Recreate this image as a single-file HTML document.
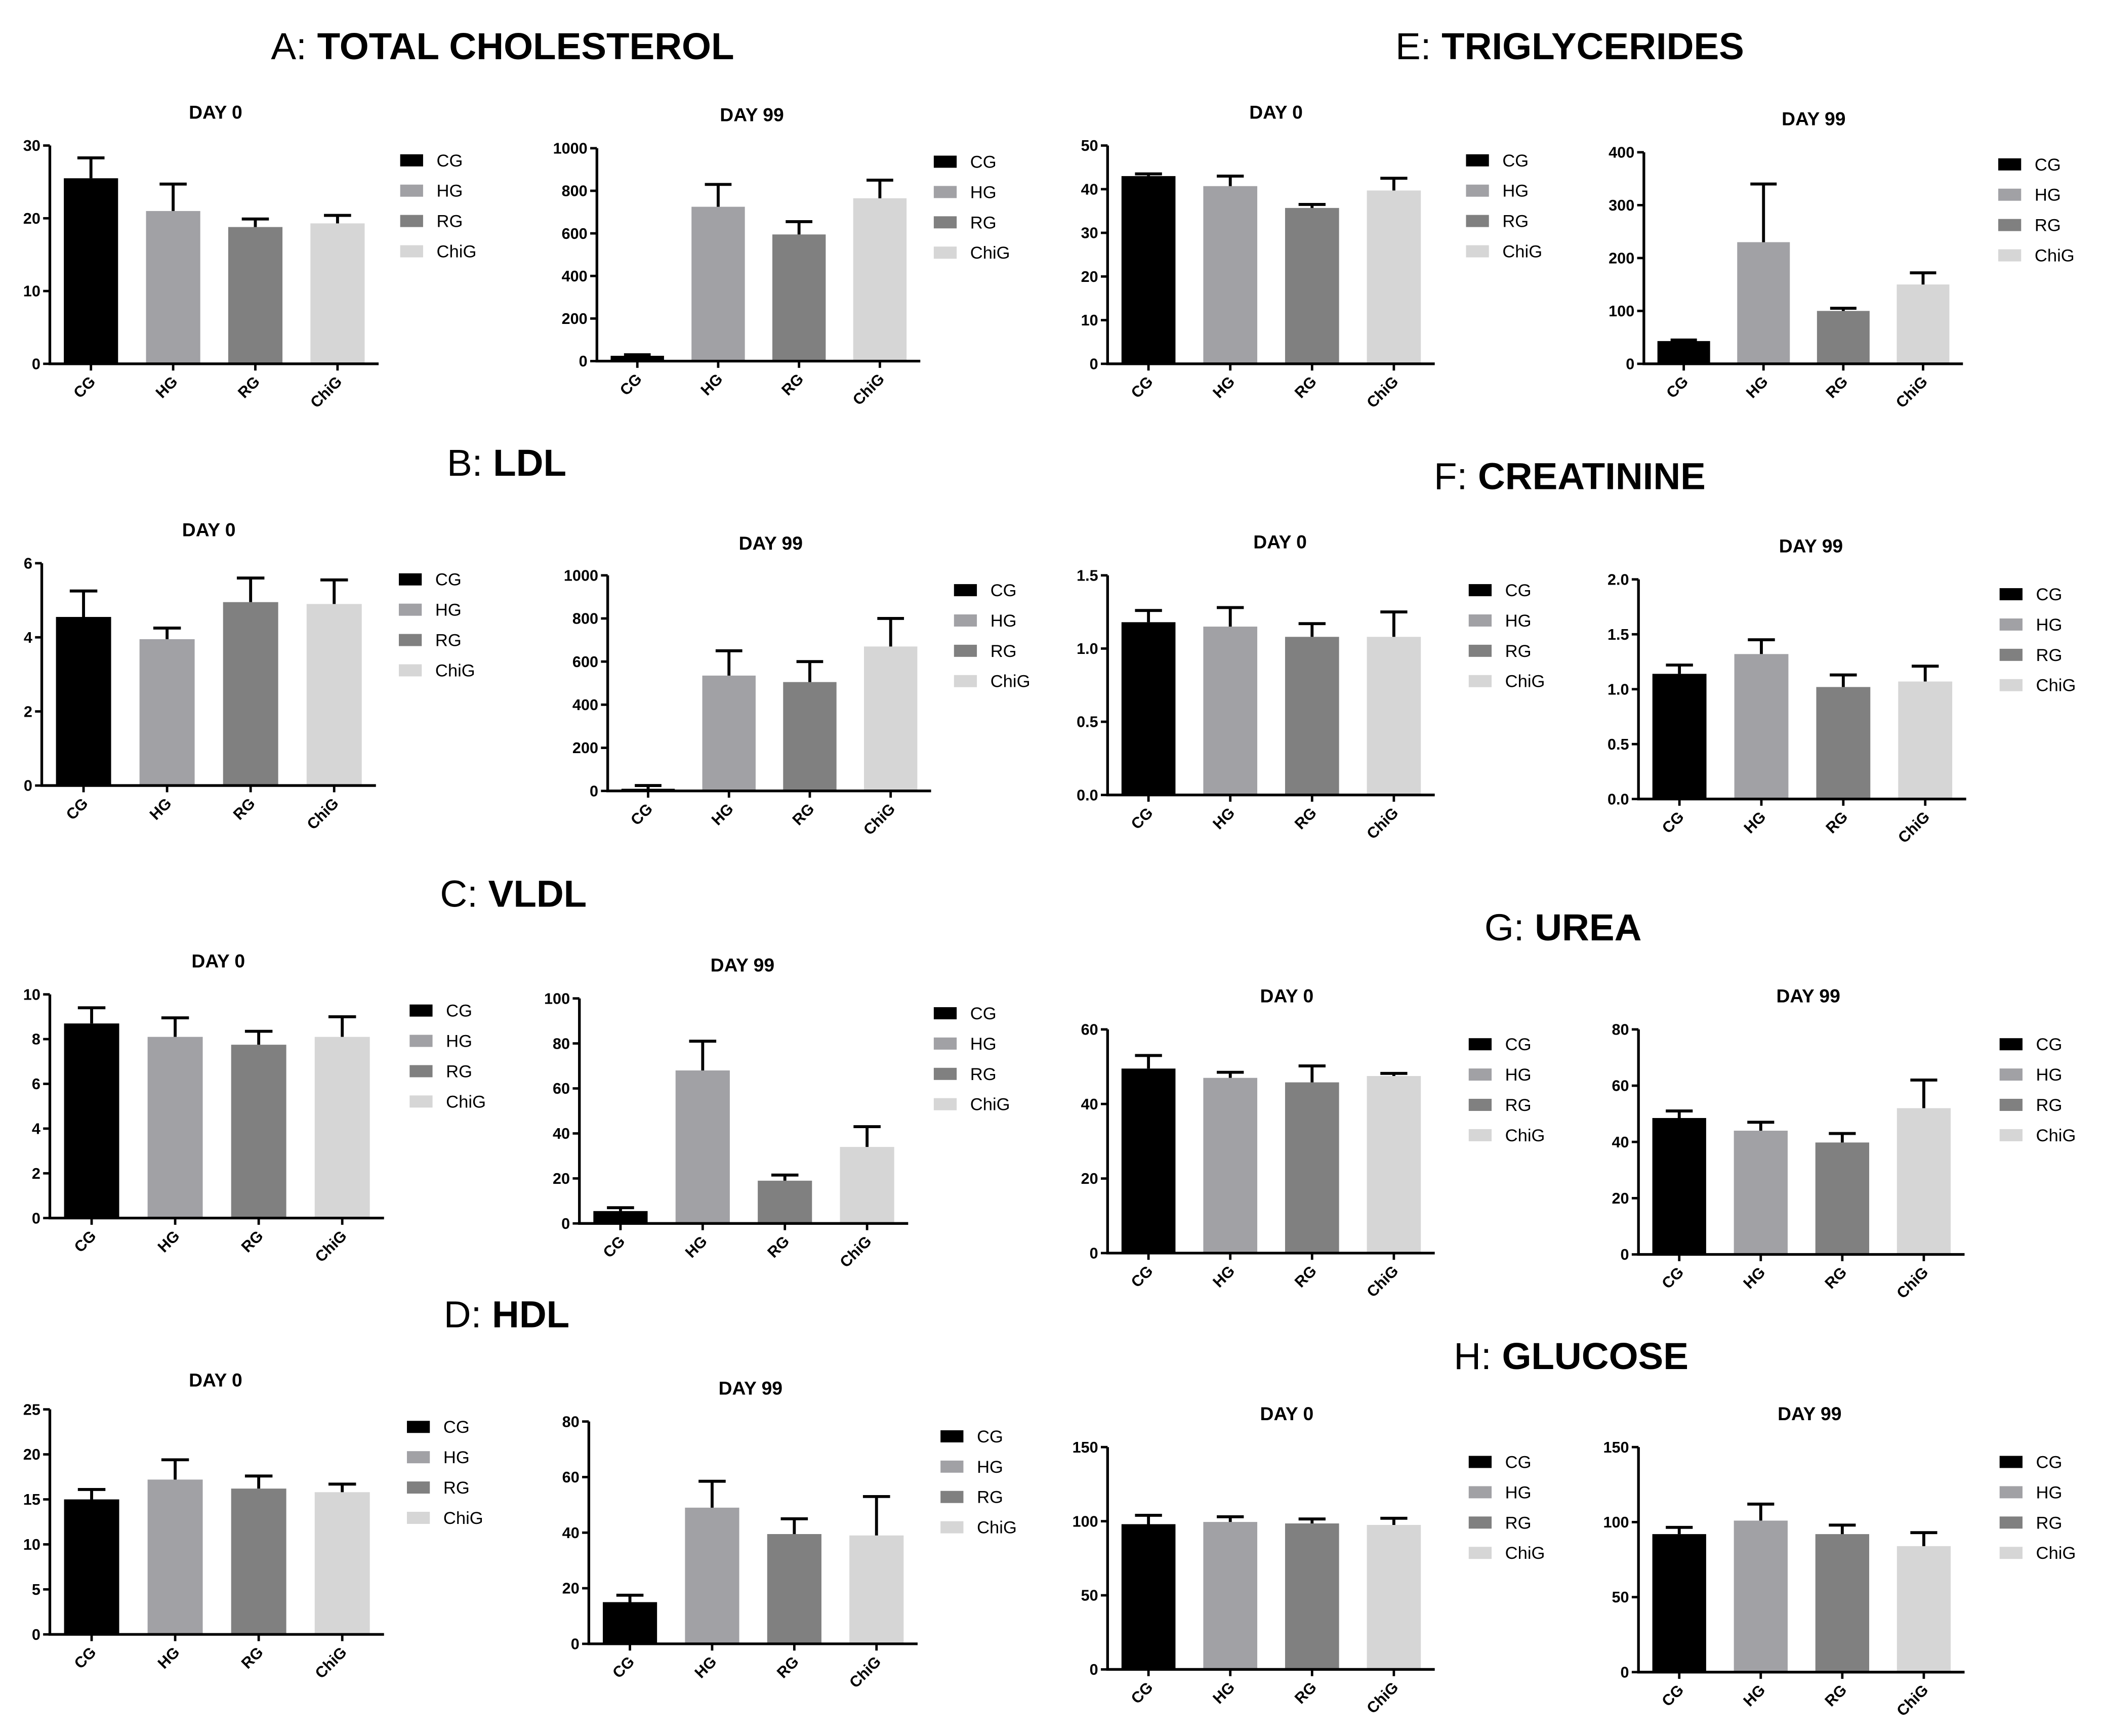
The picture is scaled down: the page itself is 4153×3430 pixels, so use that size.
<!DOCTYPE html>
<html><head><meta charset="utf-8">
<style>
html,body{margin:0;padding:0;background:#fff;}
svg{display:block;font-family:"Liberation Sans",Arial,sans-serif;}
</style></head>
<body>
<svg id="fig" width="4153" height="3430" viewBox="0 0 1560 1288.4" xmlns="http://www.w3.org/2000/svg">
<rect width="1560" height="1288.4" fill="#fff"/>
<g font-size="28" text-anchor="middle">
<text x="373" y="44"><tspan>A: </tspan><tspan font-weight="bold">TOTAL CHOLESTEROL</tspan></text>
<text x="376" y="353"><tspan>B: </tspan><tspan font-weight="bold">LDL</tspan></text>
<text x="381" y="673"><tspan>C: </tspan><tspan font-weight="bold">VLDL</tspan></text>
<text x="376" y="985"><tspan>D: </tspan><tspan font-weight="bold">HDL</tspan></text>
<text x="1165" y="44"><tspan>E: </tspan><tspan font-weight="bold">TRIGLYCERIDES</tspan></text>
<text x="1165" y="363"><tspan>F: </tspan><tspan font-weight="bold">CREATININE</tspan></text>
<text x="1160" y="698"><tspan>G: </tspan><tspan font-weight="bold">UREA</tspan></text>
<text x="1166" y="1016"><tspan>H: </tspan><tspan font-weight="bold">GLUCOSE</tspan></text>
</g>
<g id="charts"></g>
</svg>
<script>
const categories = ["CG","HG","RG","ChiG"];
const colors = ["#000000","#a1a1a5","#808080","#d6d6d6"];

const cholDay0 = [25.5,21,18.8,19.3];
const cholDay0Err = [28.3,24.7,19.9,20.4];
const cholDay99 = [25,725,595,765];
const cholDay99Err = [30,830,655,850];
const ldlDay0 = [4.55,3.95,4.95,4.9];
const ldlDay0Err = [5.25,4.25,5.6,5.55];
const ldlDay99 = [10,535,505,670];
const ldlDay99Err = [25,650,600,800];
const vldlDay0 = [8.7,8.1,7.75,8.1];
const vldlDay0Err = [9.4,8.95,8.35,9.0];
const vldlDay99 = [5.5,68,19,34];
const vldlDay99Err = [7,81,21.5,43];
const hdlDay0 = [15,17.2,16.2,15.8];
const hdlDay0Err = [16.1,19.4,17.6,16.7];
const hdlDay99 = [15,49,39.5,39];
const hdlDay99Err = [17.5,58.5,45,53];
const trigDay0 = [43,40.7,35.7,39.7];
const trigDay0Err = [43.5,43,36.5,42.5];
const trigDay99 = [43,230,100,150];
const trigDay99Err = [45,340,105,172];
const creatDay0 = [1.18,1.15,1.08,1.08];
const creatDay0Err = [1.26,1.28,1.17,1.25];
const creatDay99 = [1.14,1.32,1.02,1.07];
const creatDay99Err = [1.22,1.45,1.13,1.21];
const ureaDay0 = [49.5,47,45.8,47.5];
const ureaDay0Err = [53,48.5,50.2,48.2];
const ureaDay99 = [48.5,44,39.8,52];
const ureaDay99Err = [51,47,43,62];
const glucDay0 = [98,99.5,98.5,97.5];
const glucDay0Err = [104,103,101.5,102];
const glucDay99 = [92,101,92,84];
const glucDay99Err = [96.5,112,98,93];

const ticksChol0 = [0,10,20,30];
const ticksChol99 = [0,200,400,600,800,1000];
const ticksLdl0 = [0,2,4,6];
const ticksLdl99 = [0,200,400,600,800,1000];
const ticksVldl0 = [0,2,4,6,8,10];
const ticksVldl99 = [0,20,40,60,80,100];
const ticksHdl0 = [0,5,10,15,20,25];
const ticksHdl99 = [0,20,40,60,80];
const ticksTrig0 = [0,10,20,30,40,50];
const ticksTrig99 = [0,100,200,300,400];
const ticksCreat0 = ["0.0","0.5","1.0","1.5"];
const ticksCreat99 = ["0.0","0.5","1.0","1.5","2.0"];
const ticksUrea0 = [0,20,40,60];
const ticksUrea99 = [0,20,40,60,80];
const ticksGluc = [0,50,100,150];

const panels = [
 {name:"chol-day0",t:"DAY 0",v:cholDay0,e:cholDay0Err,ticks:ticksChol0,x0:37,step:61,top:108,bot:270,tx:160,ty:88,lx:297,ly:119},
 {name:"chol-day99",t:"DAY 99",v:cholDay99,e:cholDay99Err,ticks:ticksChol99,x0:443,step:60,top:110,bot:268,tx:558,ty:90,lx:693,ly:120},
 {name:"ldl-day0",t:"DAY 0",v:ldlDay0,e:ldlDay0Err,ticks:ticksLdl0,x0:31,step:62,top:418,bot:583,tx:155,ty:398,lx:296,ly:430},
 {name:"ldl-day99",t:"DAY 99",v:ldlDay99,e:ldlDay99Err,ticks:ticksLdl99,x0:451,step:60,top:427,bot:587,tx:572,ty:408,lx:708,ly:438},
 {name:"vldl-day0",t:"DAY 0",v:vldlDay0,e:vldlDay0Err,ticks:ticksVldl0,x0:37,step:62,top:738,bot:904,tx:162,ty:718,lx:304,ly:750},
 {name:"vldl-day99",t:"DAY 99",v:vldlDay99,e:vldlDay99Err,ticks:ticksVldl99,x0:430,step:61,top:741,bot:908,tx:551,ty:721,lx:693,ly:752},
 {name:"hdl-day0",t:"DAY 0",v:hdlDay0,e:hdlDay0Err,ticks:ticksHdl0,x0:37,step:62,top:1046,bot:1213,tx:160,ty:1029,lx:302,ly:1059},
 {name:"hdl-day99",t:"DAY 99",v:hdlDay99,e:hdlDay99Err,ticks:ticksHdl99,x0:437,step:61,top:1055,bot:1220,tx:557,ty:1035,lx:698,ly:1066},
 {name:"trig-day0",t:"DAY 0",v:trigDay0,e:trigDay0Err,ticks:ticksTrig0,x0:822,step:60.7,top:108,bot:270,tx:947,ty:88,lx:1088,ly:119},
 {name:"trig-day99",t:"DAY 99",v:trigDay99,e:trigDay99Err,ticks:ticksTrig99,x0:1220,step:59.2,top:113,bot:270,tx:1346,ty:93,lx:1483,ly:122},
 {name:"creat-day0",t:"DAY 0",v:creatDay0,e:creatDay0Err,ticks:ticksCreat0,x0:822,step:60.7,top:427,bot:590,tx:950,ty:407,lx:1090,ly:438},
 {name:"creat-day99",t:"DAY 99",v:creatDay99,e:creatDay99Err,ticks:ticksCreat99,x0:1216,step:60.8,top:430,bot:593,tx:1344,ty:410,lx:1484,ly:441},
 {name:"urea-day0",t:"DAY 0",v:ureaDay0,e:ureaDay0Err,ticks:ticksUrea0,x0:822,step:60.7,top:764,bot:930,tx:955,ty:744,lx:1090,ly:775},
 {name:"urea-day99",t:"DAY 99",v:ureaDay99,e:ureaDay99Err,ticks:ticksUrea99,x0:1216,step:60.5,top:764,bot:931,tx:1342,ty:744,lx:1484,ly:775},
 {name:"gluc-day0",t:"DAY 0",v:glucDay0,e:glucDay0Err,ticks:ticksGluc,x0:822,step:60.7,top:1074,bot:1239,tx:955,ty:1054,lx:1090,ly:1085},
 {name:"gluc-day99",t:"DAY 99",v:glucDay99,e:glucDay99Err,ticks:ticksGluc,x0:1216,step:60.5,top:1074,bot:1241,tx:1343,ty:1054,lx:1484,ly:1085}
];

const NS="http://www.w3.org/2000/svg";
const root=document.getElementById("charts");
function mk(tag,attrs,parent){const el=document.createElementNS(NS,tag);for(const k in attrs)el.setAttribute(k,attrs[k]);parent.appendChild(el);return el;}

panels.forEach(p=>{
  const g=mk("g",{},root);
  
  
  const maxV=parseFloat(p.ticks[p.ticks.length-1]);
  const y=v=>p.bot-(v/maxV)*(p.bot-p.top);
  const cx=i=>p.x0+p.step*(i+0.5);
  const bw=p.step*0.66;
  const x1=p.x0+p.step*4;
  const t=mk("text",{x:p.tx,y:p.ty,"font-size":14,"font-weight":"bold","text-anchor":"middle"},g);
  t.textContent=p.t;
  
  
  p.v.forEach((val,i)=>{
    const r=mk("rect",{x:cx(i)-bw/2,y:y(val),width:bw,height:p.bot-y(val),fill:colors[i]},g);
    
    
    const eb=mk("path",{d:`M${cx(i)} ${y(val)}V${y(p.e[i])}M${cx(i)-bw*0.25} ${y(p.e[i])}H${cx(i)+bw*0.25}`,stroke:"#000","stroke-width":2.2,fill:"none"},g);
    
    
    const tk=mk("line",{x1:cx(i),x2:cx(i),y1:p.bot,y2:p.bot+5,stroke:"#000","stroke-width":1.8},g);
    
    
    const lb=mk("text",{x:0,y:0,"font-size":11.5,"font-weight":"bold","text-anchor":"end",transform:`translate(${cx(i)+4},${p.bot+14}) rotate(-45)`},g);
    lb.textContent=categories[i];
    
    
  });
  const ax=mk("path",{d:`M${p.x0} ${p.top}V${p.bot}H${x1}`,stroke:"#000","stroke-width":2,fill:"none"},g);
  
  
  p.ticks.forEach(tv=>{
    const yy=y(parseFloat(tv));
    const tl=mk("line",{x1:p.x0-5,x2:p.x0,y1:yy,y2:yy,stroke:"#000","stroke-width":1.8},g);
    
    
    const tt=mk("text",{x:p.x0-7,y:yy+4,"font-size":11.5,"font-weight":"bold","text-anchor":"end"},g);
    tt.textContent=String(tv);
    
    
  });
  categories.forEach((c,i)=>{
    const ly=p.ly+i*22.5;
    const sw=mk("rect",{x:p.lx,y:ly-4.5,width:17,height:9,fill:colors[i]},g);
    
    
    const lt=mk("text",{x:p.lx+27,y:ly+4.5,"font-size":13},g);
    lt.textContent=c;
    
    
  });
});
</script>
</body></html>
